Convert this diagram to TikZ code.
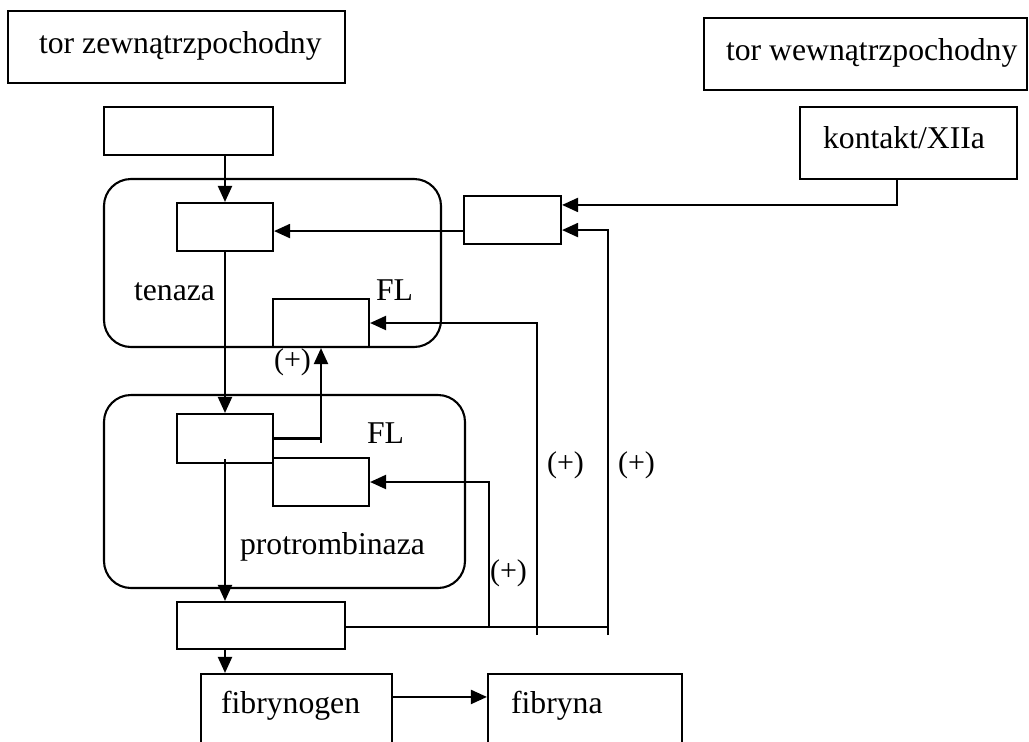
\documentclass[tikz,border=0pt]{standalone}
\usepackage{fontspec}
\setmainfont{Liberation Serif}
\usetikzlibrary{arrows.meta,calc}
\begin{document}
\begin{tikzpicture}[x=1pt,y=-1pt, line width=2.1pt,
  box/.style={draw, rectangle, inner sep=0pt, line width=2.1pt},
  rbox/.style={box, rounded corners=27pt},
  lbl/.style={inner sep=0pt, anchor=base west, font=\fontsize{31.7}{38}\selectfont},
  plus/.style={inner sep=0pt, anchor=base west, font=\fontsize{30}{36}\selectfont},
  arr/.style={-{Triangle[length=16pt,width=14pt]}}]
\useasboundingbox (0,0) rectangle (1029,742);
\clip (0,0) rectangle (1029,742);

% boxes
\node[box, minimum width=337pt, minimum height=72pt] (ext) at (176.5,47) {};
\node[box, minimum width=323pt, minimum height=72pt] (int) at (865.5,54) {};
\node[box, minimum width=217pt, minimum height=72pt] (kont) at (908.5,143) {};
\node[box, minimum width=169pt, minimum height=48pt] (top) at (188.5,131) {};
\node[rbox, minimum width=337pt, minimum height=168pt] (tenaza) at (272.5,263) {};
\node[box, minimum width=96pt, minimum height=48pt] (t1) at (225,227) {};
\node[box, minimum width=96pt, minimum height=48pt] (tFL) at (321,323) {};
\node[box, minimum width=97pt, minimum height=48pt] (xi) at (512.5,220) {};
\node[rbox, minimum width=361pt, minimum height=193pt] (protro) at (284.5,491.5) {};
\node[box, minimum width=96pt, minimum height=49pt] (p1) at (225,438.5) {};
\node[box, minimum width=96pt, minimum height=48pt] (pFL) at (321,482) {};
\node[box, minimum width=168pt, minimum height=47pt] (thr) at (261,625.5) {};
\node[box, minimum width=191pt, minimum height=96pt] (fgen) at (296.5,722) {};
\node[box, minimum width=194pt, minimum height=96pt] (fna) at (585,722) {};

% texts
\node[lbl] (l1) at (38,53) {tor zewnątrzpochodny};
\node[lbl] (l2) at (725,60) {tor wewnątrzpochodny};
\node[lbl] (l3) at (822,148) {kontakt/XIIa};
\node[lbl] (l4) at (133,300) {tenaza};
\node[lbl] (l5) at (375,300) {FL};
\node[plus] (l6) at (273,369) {(+)};
\node[lbl] (l7) at (366,443) {FL};
\node[lbl] (l8) at (239,554) {protrombinaza};
\node[plus] (l9) at (546,472) {(+)};
\node[plus] (l10) at (617,472) {(+)};
\node[plus] (l11) at (489,580) {(+)};
\node[lbl] (l12) at (220,713) {fibrynogen};
\node[lbl] (l13) at (510,713) {fibryna};

% bus coordinates
\coordinate (v1b) at (489,627);
\coordinate (v2b) at (537,635);
\coordinate (v3b) at (608,635);

% connectors
\draw[arr] (t1.north |- top.south) -- (t1.north);
\draw[arr] ($(xi.south west)+(0,-14)$) -- ($(t1.south east)+(0,-21)$);
\draw[arr] ($(kont.south)+(-11.5,0)$) |- ($(xi.north east)+(0,10)$);
\draw[arr] (t1.south) -- (p1.north);
\draw (p1.east) -- (p1.east -| tFL.south);
\draw[arr] ($(p1.east -| tFL.south)+(0,4)$) -- (tFL.south);
\draw[arr] ($(p1.south)+(0,-5)$) -- (p1.south |- thr.north);
\draw[arr] (p1.south |- thr.south) -- (p1.south |- fgen.north);
\draw (thr.east |- v1b) -- (v3b |- v1b);
\draw[arr] (v1b) |- (pFL.east);
\draw[arr] (v2b) |- (tFL.east);
\draw[arr] (v3b) |- ($(xi.south east)+(0,-15)$);
\draw[arr] ($(fgen.north east)+(0,24)$) -- ($(fna.north west)+(0,24)$);
\end{tikzpicture}
\end{document}
